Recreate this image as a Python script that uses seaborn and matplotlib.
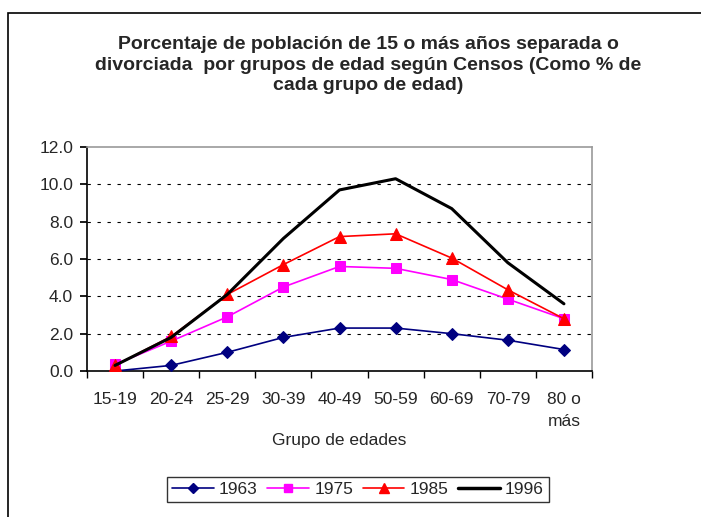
import matplotlib
matplotlib.use("Agg")
import matplotlib.pyplot as plt
import seaborn as sns
import pandas as pd
from matplotlib.lines import Line2D
from matplotlib.patches import Rectangle

categories = ["15-19", "20-24", "25-29", "30-39", "40-49", "50-59", "60-69", "70-79", "80 o\nmás"]
s1963 = [0.0, 0.3, 1.0, 1.8, 2.3, 2.3, 2.0, 1.65, 1.15]
s1975 = [0.35, 1.6, 2.9, 4.5, 5.6, 5.5, 4.9, 3.85, 2.8]
s1985 = [0.3, 1.85, 4.1, 5.7, 7.2, 7.35, 6.05, 4.35, 2.8]
s1996 = [0.3, 1.8, 4.1, 7.1, 9.7, 10.3, 8.7, 5.8, 3.6]
years = ["1963", "1975", "1985", "1996"]
yticks = [0, 2, 4, 6, 8, 10, 12]

rows = []
for yr, vals in zip(years, [s1963, s1975, s1985, s1996]):
    for i, (c, v) in enumerate(zip(categories, vals)):
        rows.append({"grupo": i, "cat": c, "año": yr, "valor": v})
df = pd.DataFrame(rows)

sns.set_theme(style="white")
plt.rcParams["font.family"] = ["Liberation Sans", "DejaVu Sans"]

fig = plt.figure(figsize=(7.01, 5.17), dpi=100)
fig.patch.set_facecolor("white")
# outer chart frame (left and top visible)
fig.add_artist(Rectangle((8 / 701, -0.05), 1.2, (517 - 13) / 517 + 0.05,
                         transform=fig.transFigure, fill=False, edgecolor="black", lw=1.2))

ax = fig.add_axes([87 / 701, (517 - 371) / 517, (592 - 87) / 701, (371 - 147) / 517])

palette = {"1963": "#000080", "1975": "#FF00FF", "1985": "#FF0000", "1996": "#000000"}
markers = {"1963": "D", "1975": "s", "1985": "^", "1996": ""}
sizes = {"1963": 6, "1975": 7, "1985": 8, "1996": 0}
widths = {"1963": 1.2, "1975": 1.2, "1985": 1.2, "1996": 2.2}

for yr in years:
    sub = df[df["año"] == yr]
    sns.lineplot(data=sub, x="grupo", y="valor", ax=ax, color=palette[yr],
                 marker=markers[yr] if markers[yr] else None,
                 markersize=sizes[yr], markeredgecolor=palette[yr],
                 linewidth=widths[yr], legend=False, zorder=3)

ax.set_xlim(-0.5, len(categories) - 0.5)
ax.set_ylim(0, 12)
ax.set_yticks(yticks)
ax.set_yticklabels([f"{v:.1f}" for v in yticks], fontsize=12.5)
ax.set_xticks(range(len(categories)))
ax.set_xticklabels(categories, fontsize=12.5)
for lbl in ax.get_xticklabels():
    lbl.set_linespacing(1.6)
ax.tick_params(axis="x", length=0, pad=15)
ax.tick_params(axis="y", length=5, direction="out", left=True, color="black", pad=5)
# minor ticks at category boundaries on x
ax.set_xticks([i + 0.5 for i in range(-1, len(categories))], minor=True)
ax.tick_params(axis="x", which="minor", length=5, direction="out", bottom=True, color="black")

for v in yticks[1:-1]:
    ax.axhline(v, color="black", lw=0.8, ls=(0, (3, 6)), zorder=1)

for side in ["top", "right"]:
    ax.spines[side].set_color("#9a9a9a")
    ax.spines[side].set_linewidth(1.2)
for side in ["left", "bottom"]:
    ax.spines[side].set_color("black")
    ax.spines[side].set_linewidth(1.2)

ax.set_xlabel("Grupo de edades", fontsize=12.5)
ax.xaxis.set_label_coords(0.5, -(441 - 371) / 224)
ax.xaxis.label.set_va("center")
ax.set_ylabel("")

fig.text(368 / 701, (517 - 65) / 517,
         "Porcentaje de población de 15 o más años separada o\n"
         "divorciada  por grupos de edad según Censos (Como % de\n"
         "cada grupo de edad)",
         ha="center", va="center", fontsize=14, fontweight="bold", linespacing=1.25)

handles = [Line2D([0], [0], color=palette[y], marker=markers[y] if markers[y] else None,
                  markersize=(sizes[y] - 1) if sizes[y] else 0, lw=widths[y] if y != "1996" else 2.5)
           for y in years]
leg = fig.legend(handles, years, loc="center", bbox_to_anchor=(358 / 701, (517 - 489.5) / 517),
                 ncol=4, fontsize=12.5, frameon=True, fancybox=False, edgecolor="black",
                 handlelength=2.4, columnspacing=0.55, handletextpad=0.3, borderpad=0.3)
leg.get_frame().set_linewidth(1.0)

fig.savefig("out.png", dpi=100, facecolor="white")
